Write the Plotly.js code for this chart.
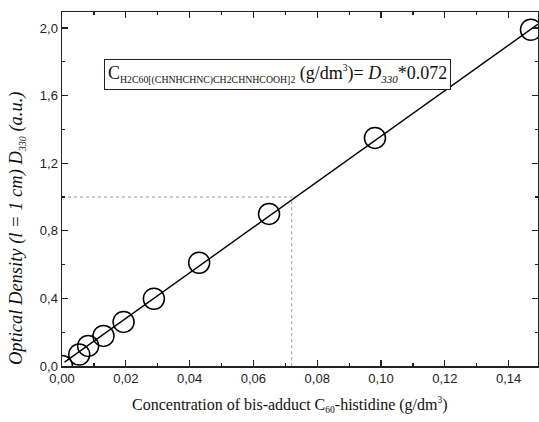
<!DOCTYPE html>
<html>
<head>
<meta charset="utf-8">
<script src="https://cdn.plot.ly/plotly-3.0.1.min.js"></script>
<style>html,body{margin:0;padding:0;background:#fff;}#chart{width:539px;height:422px;}</style>
</head>
<body>
<div id="chart"></div>
<script>
// Measured points: concentration (g/dm3) vs optical density D330
var concentration = [0.0, 0.0054, 0.0082, 0.0130, 0.0193, 0.0288, 0.0430, 0.0649, 0.0981, 0.1470];
var density = [0.0, 0.068, 0.119, 0.178, 0.261, 0.398, 0.611, 0.900, 1.350, 1.990];
// Calibration line end points
var fitX = [0.0008, 0.1492];
var fitY = [0.023, 2.023];
// Reference read-off (D = 1.0 -> C = 0.072)
var refX = [0.0, 0.072, 0.072];
var refY = [1.0, 1.0, 0.0];
var xTicks = [0, 0.02, 0.04, 0.06, 0.08, 0.10, 0.12, 0.14];
var yTicks = [0, 0.4, 0.8, 1.2, 1.6, 2.0];

var times = 'Liberation Serif';
var arial = 'Liberation Sans';

var traces = [
  {x: refX, y: refY, mode: 'lines', type: 'scatter', hoverinfo: 'skip',
   line: {color: '#999', width: 1, dash: 'dot'}},
  {x: fitX, y: fitY, mode: 'lines', type: 'scatter',
   line: {color: '#000', width: 1.4}},
  {x: concentration, y: density, mode: 'markers', type: 'scatter',
   marker: {symbol: 'circle-open', size: 21, color: '#000', line: {color: '#000', width: 1.5}}}
];

var axisCommon = {
  showgrid: false, zeroline: false, showline: true, linecolor: '#222', linewidth: 1.5,
  ticks: 'inside', ticklen: 6, tickwidth: 1.2, tickcolor: '#222', mirror: 'allticks',
  tickfont: {family: arial, size: 13, color: '#222'}
};

var layout = {
  width: 539, height: 422,
  margin: {l: 62, r: 1, t: 12, b: 56},
  paper_bgcolor: '#fff', plot_bgcolor: '#fff',
  showlegend: false,
  separators: ',.',
  xaxis: Object.assign({}, axisCommon, {
    range: [0, 0.1492], tickvals: xTicks, tickformat: '.2f',
    minor: {dtick: 0.01, tick0: 0, ticks: 'inside', ticklen: 3, tickwidth: 1.2, tickcolor: '#222'}
  }),
  yaxis: Object.assign({}, axisCommon, {
    range: [0, 2.095], tickvals: yTicks, tickformat: '.1f', ticklabelstandoff: 0,
    minor: {dtick: 0.2, tick0: 0, ticks: 'inside', ticklen: 3, tickwidth: 1.2, tickcolor: '#222'}
  }),
  annotations: [
    {xref: 'paper', yref: 'paper', x: 0.4527, y: 0.8234, xanchor: 'center', yanchor: 'middle',
     showarrow: false, bordercolor: '#222', borderwidth: 1, borderpad: 3, bgcolor: '#fff',
     font: {family: times, size: 18, color: '#111'},
     text: 'C<sub><span style="font-size:9.8px">H2C60[(CHNHCHNC)CH2CHNHCOOH]2</span></sub> (g/dm<sup><span style="font-size:9.5px">3</span></sup>)= <i>D</i><sub><span style="font-size:11px"><i>330</i></span></sub>*0.072'},
    {xref: 'paper', yref: 'paper', x: -0.0956, y: 0.391, xanchor: 'center', yanchor: 'middle',
     showarrow: false, textangle: -90,
     font: {family: times, size: 18.5, color: '#111'},
     text: '<i>Optical Density (l = 1 cm) D</i><sub><span style="font-size:10px"><i>330</i></span></sub><i> (a.u.)</i>'},
    {xref: 'paper', yref: 'paper', x: 0.479, y: -0.11, xanchor: 'center', yanchor: 'middle',
     showarrow: false,
     font: {family: times, size: 16, color: '#111'},
     text: 'Concentration of bis-adduct C<sub><span style="font-size:9.5px">60</span></sub>-histidine (g/dm<sup><span style="font-size:9.5px">3</span></sup>)'}
  ]
};

Plotly.newPlot('chart', traces, layout, {displayModeBar: false, staticPlot: true});
</script>
</body>
</html>
